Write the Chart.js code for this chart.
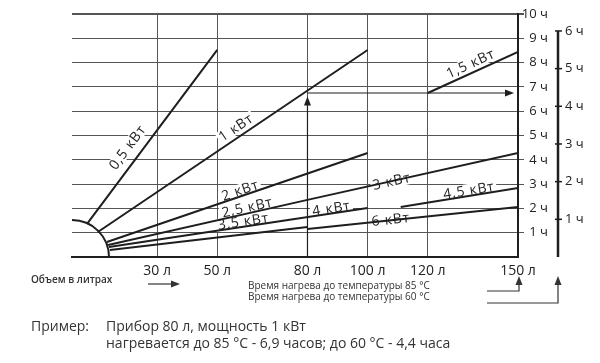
<!DOCTYPE html>
<html>
<head>
<meta charset="utf-8">
<script src="https://cdn.jsdelivr.net/npm/chart.js@4.4.0/dist/chart.umd.min.js"></script>
<style>
  body { margin: 0; background: #fff; }
  #wrap { width: 600px; height: 363px; }
</style>
</head>
<body>
<div id="wrap"><canvas id="myChart" width="600" height="363"></canvas></div>
<script>
  // ось X - объем в литрах, ось Y - часы нагрева (85 °C) и вторая ось (60 °C)
  const volumeTicks = [30, 50, 80, 100, 120, 150];
  const hoursTicks85 = [1, 2, 3, 4, 5, 6, 7, 8, 9, 10];
  const hoursTicks60 = [1, 2, 3, 4, 5, 6];

  // линии мощности, точки {объем, часы}
  const kw05 = [{x: 6.7, y: 1.36}, {x: 50, y: 8.52}];
  const kw1 = [{x: 10.3, y: 1.03}, {x: 100, y: 8.52}];
  const kw15 = [{x: 120, y: 6.75}, {x: 150, y: 8.44}];
  const kw2 = [{x: 13.3, y: 0.62}, {x: 100, y: 4.28}];
  const kw25 = [{x: 13.7, y: 0.49}, {x: 80, y: 2.35}];
  const kw3 = [{x: 80, y: 2.35}, {x: 150, y: 4.28}];
  const kw35 = [{x: 14, y: 0.41}, {x: 100, y: 2.02}];
  const kw4 = [{x: 14.3, y: 0.29}, {x: 80, y: 1.23}];
  const kw6 = [{x: 80, y: 1.15}, {x: 150, y: 2.06}];
  const kw45 = [{x: 111, y: 2.06}, {x: 150, y: 2.84}];

  // подписи линий: текст, номер линии, место (объем, часы)
  const labelText = ['0,5 кВт', '1 кВт', '1,5 кВт', '2 кВт', '2,5 кВт', '3,5 кВт', '3 кВт', '4 кВт', '6 кВт', '4,5 кВт'];
  const labelLine = [0, 1, 2, 3, 4, 6, 5, 6, 8, 9];
  const labelX = [20.3, 56.3, 134.3, 57.7, 60, 58.7, 108, 88, 107.7, 133.7];
  const labelY = [4.5, 5.31, 7.94, 2.72, 2.02, 1.44, 3.09, 1.98, 1.52, 2.72];

  // пример: прибор 80 л, 1 кВт -> 6,9 ч
  const exampleVolume = 80;
  const exampleHoursUp = 6.6;
  const exampleHoursLine = 6.75;

  // дуга в углу (радиус в литрах и часах)
  const arcVolume = 12.3;
  const arcHours = 1.52;

  const lineColor = '#1e1e1e';
  const FONT = '"Open Sans", "DejaVu Sans", sans-serif';

  function makeLine(pts) {
    return {
      data: pts,
      showLine: true,
      borderColor: lineColor,
      borderWidth: 2,
      pointRadius: 0,
      fill: false,
      tension: 0
    };
  }

  function arrowHead(ctx, x, y, dir) { // dir: 'up' / 'right'
    ctx.beginPath();
    if (dir === 'up') {
      ctx.moveTo(x, y); ctx.lineTo(x - 3.5, y + 9); ctx.lineTo(x + 3.5, y + 9);
    } else {
      ctx.moveTo(x, y); ctx.lineTo(x - 9, y - 3.5); ctx.lineTo(x - 9, y + 3.5);
    }
    ctx.closePath();
    ctx.fill();
  }

  const extras = {
    id: 'extras',
    beforeDatasetsDraw(chart) {
      // подписи линий на белой подложке
      const {ctx, scales: {x, y}} = chart;
      ctx.save();
      ctx.font = '14px ' + FONT;
      ctx.letterSpacing = '0.8px';
      ctx.textAlign = 'center';
      ctx.textBaseline = 'middle';
      labelText.forEach(function(t, i) {
        const pts = chart.data.datasets[labelLine[i]].data;
        const a = pts[0], b = pts[pts.length - 1];
        const ang = Math.atan2(y.getPixelForValue(b.y) - y.getPixelForValue(a.y),
                               x.getPixelForValue(b.x) - x.getPixelForValue(a.x));
        ctx.save();
        ctx.translate(x.getPixelForValue(labelX[i]), y.getPixelForValue(labelY[i]));
        ctx.rotate(ang);
        const w = ctx.measureText(t).width;
        ctx.fillStyle = '#fff';
        ctx.fillRect(-w / 2 - 2, -7, w + 4, 13);
        ctx.fillStyle = '#222';
        ctx.fillText(t, 0, 0);
        ctx.restore();
      });
      ctx.restore();
    },
    afterDatasetsDraw(chart) {
      const {ctx, scales: {x, y}} = chart;
      ctx.save();
      ctx.strokeStyle = lineColor;
      ctx.fillStyle = lineColor;
      ctx.lineWidth = 2;
      // дуга
      const cx = x.getPixelForValue(x.min), cy = y.getPixelForValue(0);
      const rx = x.getPixelForValue(x.min + arcVolume) - cx;
      const ry = cy - y.getPixelForValue(arcHours);
      ctx.beginPath();
      ctx.ellipse(cx, cy, rx, ry, 0, -Math.PI / 2, 0);
      ctx.stroke();
      // стрелки примера
      ctx.lineWidth = 1.2;
      const ex = x.getPixelForValue(exampleVolume);
      const eyUp = y.getPixelForValue(exampleHoursUp);
      ctx.beginPath();
      ctx.moveTo(ex, y.getPixelForValue(0));
      ctx.lineTo(ex, eyUp + 4);
      ctx.stroke();
      arrowHead(ctx, ex, eyUp, 'up');
      const eyH = y.getPixelForValue(exampleHoursLine);
      const exEnd = x.getPixelForValue(x.max) - 4;
      ctx.beginPath();
      ctx.moveTo(ex, eyH);
      ctx.lineTo(exEnd - 4, eyH);
      ctx.stroke();
      arrowHead(ctx, exEnd, eyH, 'right');
      ctx.restore();
    },
    afterDraw(chart) {
      const {ctx, chartArea, scales: {y2}} = chart;
      ctx.save();
      ctx.strokeStyle = lineColor;
      ctx.fillStyle = lineColor;
      // вторая ось 60 °C
      const ax = y2.left + 10;
      ctx.lineWidth = 2.5;
      ctx.beginPath();
      ctx.moveTo(ax, y2.getPixelForValue(0));
      ctx.lineTo(ax, y2.getPixelForValue(hoursTicks60[hoursTicks60.length - 1]));
      ctx.stroke();
      ctx.lineWidth = 1.5;
      hoursTicks60.forEach(function(h) {
        const py = y2.getPixelForValue(h);
        ctx.beginPath();
        ctx.moveTo(ax - 3, py);
        ctx.lineTo(ax + 4, py);
        ctx.stroke();
      });

      // подписи снизу
      ctx.fillStyle = '#333';
      ctx.textBaseline = 'middle';
      ctx.textAlign = 'left';
      ctx.font = '600 10px ' + FONT;
      ctx.fillText('Объем в литрах', 31, 280);
      ctx.font = '10px ' + FONT;
      ctx.fillText('Время нагрева до температуры 85 °С', 248, 286);
      ctx.fillText('Время нагрева до температуры 60 °С', 248, 297);
      ctx.font = '14px ' + FONT;
      ctx.fillText('Пример:', 31, 327);
      ctx.fillText('Прибор 80 л, мощность 1 кВт', 106, 327);
      ctx.fillText('нагревается до 85 °С - 6,9 часов; до 60 °С - 4,4 часа', 106, 344);

      // стрелки снизу
      ctx.strokeStyle = '#333';
      ctx.fillStyle = '#333';
      ctx.lineWidth = 1.2;
      ctx.beginPath();
      ctx.moveTo(148, 284); ctx.lineTo(172, 284);
      ctx.stroke();
      arrowHead(ctx, 180, 284, 'right');

      const a1 = chartArea.right + 1;
      ctx.beginPath();
      ctx.moveTo(487, 291); ctx.lineTo(a1, 291); ctx.lineTo(a1, 284);
      ctx.stroke();
      arrowHead(ctx, a1, 276, 'up');
      ctx.beginPath();
      ctx.moveTo(487, 303); ctx.lineTo(ax, 303); ctx.lineTo(ax, 284);
      ctx.stroke();
      arrowHead(ctx, ax, 276, 'up');
      ctx.restore();
    }
  };

  const ctx = document.getElementById('myChart').getContext('2d');
  const chart = new Chart(ctx, {
    type: 'scatter',
    data: {
      datasets: [kw05, kw1, kw15, kw2, kw25, kw3, kw35, kw4, kw6, kw45].map(makeLine)
    },
    options: {
      responsive: false,
      animation: false,
      layout: { padding: { left: 72, top: 14, right: 5, bottom: 76 } },
      plugins: { legend: { display: false }, tooltip: { enabled: false } },
      scales: {
        x: {
          type: 'linear',
          min: 1.7,
          max: 150,
          afterBuildTicks: function(s) { s.ticks = volumeTicks.map(v => ({ value: v })); },
          afterFit: function(s) { s.height = 30; },
          grid: { color: '#555', lineWidth: 1, drawTicks: false },
          border: { display: true, color: lineColor, width: 2 },
          ticks: {
            padding: 6,
            color: '#222',
            font: { family: FONT, size: 14 },
            maxRotation: 0,
            callback: function(v) { return v + ' л'; }
          }
        },
        y: {
          type: 'linear',
          position: 'right',
          min: 0,
          max: 10,
          afterBuildTicks: function(s) { s.ticks = hoursTicks85.map(v => ({ value: v })); },
          afterFit: function(s) { s.width = 30; },
          grid: {
            color: '#555',
            lineWidth: function(c) { return c.tick && c.tick.value === 10 ? 2 : 1; },
            tickLength: 6
          },
          border: { display: true, color: lineColor, width: 2 },
          ticks: {
            padding: 0,
            crossAlign: 'far',
            color: '#222',
            font: { family: FONT, size: 13 },
            callback: function(v) { return v + ' ч'; }
          }
        },
        y2: {
          type: 'linear',
          position: 'right',
          min: 0,
          max: 6.45,
          afterBuildTicks: function(s) { s.ticks = hoursTicks60.map(v => ({ value: v })); },
          afterFit: function(s) { s.width = 47; },
          grid: { display: false, drawTicks: true, tickLength: 17 },
          border: { display: false },
          ticks: {
            padding: 0,
            color: '#222',
            font: { family: FONT, size: 13 },
            callback: function(v) { return v + ' ч'; }
          }
        }
      }
    },
    plugins: [extras]
  });
</script>
</body>
</html>
